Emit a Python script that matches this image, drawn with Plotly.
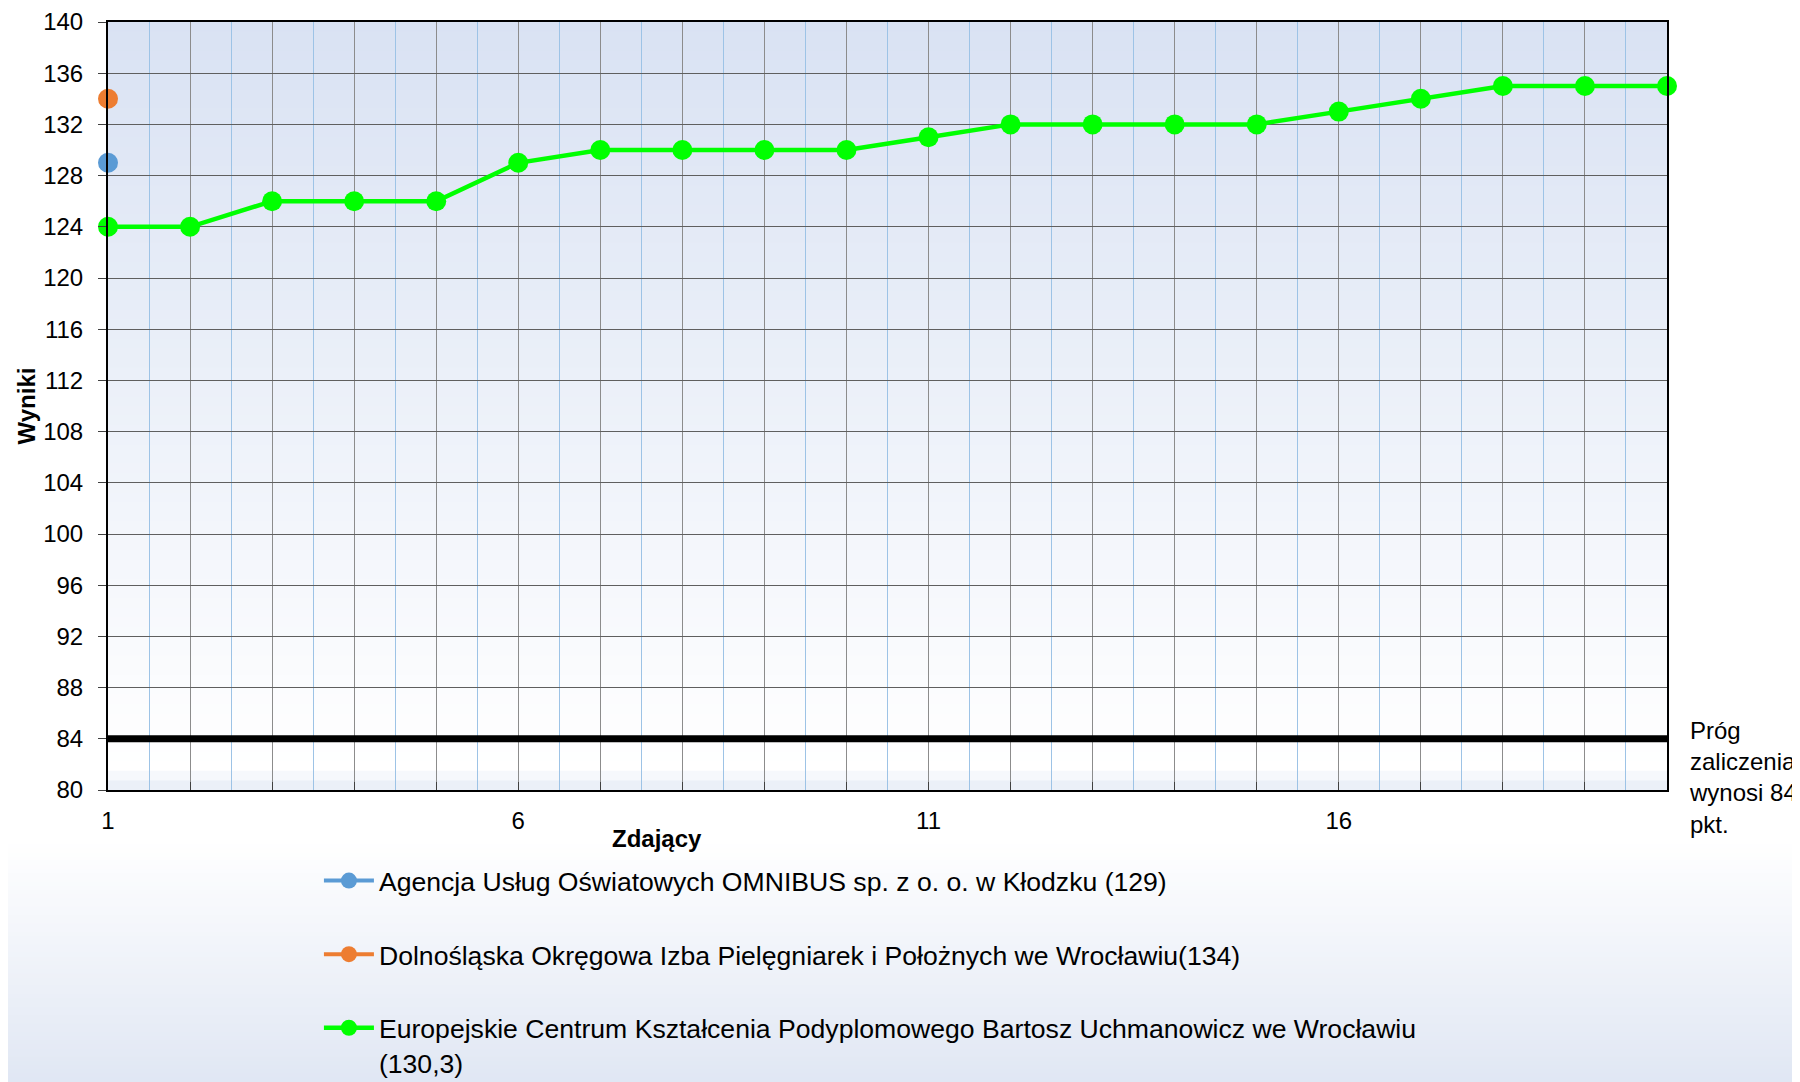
import plotly.graph_objects as go

# ---- data ----
zdajacy = list(range(1, 21))
x_tick_labels = ["1", "", "", "", "", "6", "", "", "", "", "11", "", "", "", "", "16", "", "", "", ""]
agencja_x = [1]
agencja_y = [129]
dolnoslaska_x = [1]
dolnoslaska_y = [134]
europejskie_y = [124, 124, 126, 126, 126, 129, 130, 130, 130, 130,
                 131, 132, 132, 132, 132, 133, 134, 135, 135, 135]
prog_y = [84] * 20
y_ticks = list(range(80, 141, 4))

names = [
    "Agencja Usług Oświatowych OMNIBUS sp. z o. o. w Kłodzku (129)",
    "Dolnośląska Okręgowa Izba Pielęgniarek i Położnych we Wrocławiu(134)",
    "Europejskie Centrum Kształcenia Podyplomowego Bartosz Uchmanowicz we Wrocławiu<br>(130,3)",
]
prog_label = "Próg<br>zaliczenia<br>wynosi 84<br>pkt."

FONT = "Arial, Liberation Sans, sans-serif"

fig = go.Figure()

fig.add_trace(go.Scatter(
    x=zdajacy, y=prog_y, mode="lines", line=dict(color="black", width=7),
    showlegend=False, hoverinfo="skip"))

fig.add_trace(go.Scatter(
    x=agencja_x, y=agencja_y, mode="lines+markers", name=names[0],
    line=dict(color="#5b9bd5", width=4), marker=dict(color="#5b9bd5", size=20),
    legendgroup="a", cliponaxis=False))
fig.add_trace(go.Scatter(
    x=dolnoslaska_x, y=dolnoslaska_y, mode="lines+markers", name=names[1],
    line=dict(color="#ed7d31", width=4), marker=dict(color="#ed7d31", size=20),
    legendgroup="b", cliponaxis=False))
fig.add_trace(go.Scatter(
    x=zdajacy, y=europejskie_y, mode="lines+markers", name=names[2],
    line=dict(color="#00ff00", width=4.5), marker=dict(color="#00ff00", size=20),
    legendgroup="c", cliponaxis=False))


def hex2rgb(h):
    h = h.lstrip("#")
    return tuple(int(h[i:i + 2], 16) for i in (0, 2, 4))


def mix(c1, c2, t):
    a, b = hex2rgb(c1), hex2rgb(c2)
    return "rgb(%d,%d,%d)" % tuple(round(a[i] + (b[i] - a[i]) * t) for i in range(3))


shapes = []
# plot-area gradient (top bluish -> white -> slight blue at bottom)
n = 80
for i in range(n):
    y0 = i / n
    y1 = (i + 1) / n
    yc = (y0 + y1) / 2  # 0 bottom, 1 top
    if yc < 0.03:
        col = mix("#e6ecf6", "#ffffff", yc / 0.03)
    else:
        col = mix("#ffffff", "#d9e2f3", (yc - 0.03) / 0.97)
    shapes.append(dict(type="rect", xref="x domain", yref="y domain",
                       x0=0, x1=1, y0=y0, y1=y1 + 0.002, fillcolor=col,
                       line=dict(width=0), layer="below"))

# page gradient at bottom (screen pixel rows)
plot_top, plot_bot = 22, 790
ph = plot_bot - plot_top
m = 60
start, end = 840, 1090
for i in range(m):
    p0 = start + (end - start) * i / m
    p1 = start + (end - start) * (i + 1) / m
    t = ((p0 + p1) / 2 - start) / (end - start)
    col = mix("#ffffff", "#dfe6f3", t)
    shapes.append(dict(type="rect", xref="paper", yref="paper",
                       x0=-0.5, x1=1.5,
                       y0=(plot_bot - p1) / ph - 0.001, y1=(plot_bot - p0) / ph,
                       fillcolor=col, line=dict(width=0), layer="below"))

# page body has an 8px margin, so the figure is 8px smaller and offset
fig.update_layout(
    width=1792, height=1074,
    margin=dict(l=100, r=133, t=14, b=292, autoexpand=False),
    paper_bgcolor="white", plot_bgcolor="white",
    font=dict(family=FONT, size=24, color="black"),
    shapes=shapes,
    showlegend=True,
    legend=dict(
        orientation="v", x=0.1353, xanchor="left", y=-0.087, yanchor="top",
        bgcolor="rgba(0,0,0,0)", font=dict(size=26.6, family=FONT),
        traceorder="grouped", tracegroupgap=36, itemwidth=50, valign="top",
    ),
    annotations=[
        dict(text="Zdający", xref="paper", yref="paper", x=0.352, y=-0.0625,
             xanchor="center", yanchor="middle", showarrow=False,
             font=dict(size=24, family=FONT, color="black", weight="bold")),
        dict(text=prog_label, xref="paper", yref="y", x=1.0, xshift=20, y=84,
             yshift=24, xanchor="left", yanchor="top", align="left",
             showarrow=False, font=dict(size=24, family=FONT, color="black")),
    ],
)

fig.update_xaxes(
    range=[1, 20], tickmode="array", tickvals=zdajacy, ticktext=x_tick_labels,
    showgrid=True, gridcolor="#8c8c8c", gridwidth=1,
    ticks="inside", ticklen=8, tickcolor="#404040",
    ticklabelstandoff=8,
    showline=True, linecolor="black", linewidth=2, mirror=True,
    zeroline=False,
    minor=dict(tickmode="array", tickvals=[v + 0.5 for v in zdajacy[:-1]],
               showgrid=True, gridcolor="#9dc3e6", gridwidth=1),
    tickfont=dict(size=24, family=FONT),
)
fig.update_yaxes(
    range=[80, 140], tickmode="array", tickvals=y_ticks,
    showgrid=True, gridcolor="#5f5f5f", gridwidth=1,
    ticks="outside", ticklen=8, tickcolor="#404040",
    ticklabelstandoff=10,
    showline=True, linecolor="black", linewidth=2, mirror=True,
    zeroline=False,
    title=dict(text="<b>Wyniki</b>", standoff=1, font=dict(size=24, family=FONT)),
    tickfont=dict(size=24, family=FONT),
)

fig.write_html("out.html")
